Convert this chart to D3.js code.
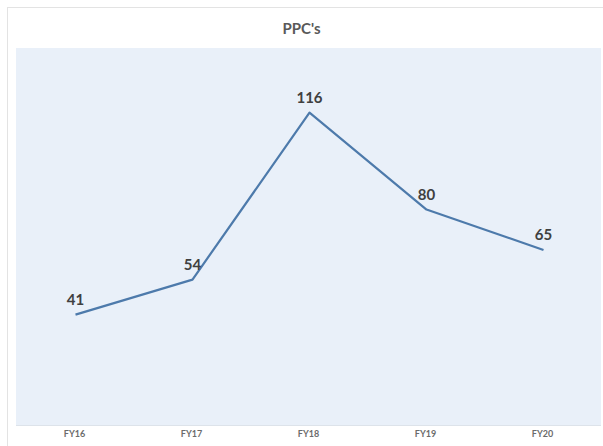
<!DOCTYPE html>
<html>
<head>
<meta charset="utf-8">
<script src="https://cdn.jsdelivr.net/npm/d3@7"></script>
<style>
  body { margin: 0; background: #fff; }
  text { font-family: Lato, "Open Sans", sans-serif; }
</style>
</head>
<body>
<div id="chart"></div>
<script>
var years = ["FY16", "FY17", "FY18", "FY19", "FY20"];
var ppcValues = [41, 54, 116, 80, 65];
var yMax = [140];

var svgWidth = 603;
var svgHeight = 446;

var margin = { top: 48, bottom: 21, left: 16, right: 2 };
var width = svgWidth - margin.left - margin.right;
var height = svgHeight - margin.top - margin.bottom;

var svg = d3.select("#chart")
    .append("svg")
    .attr("width", svgWidth)
    .attr("height", svgHeight);

// outer chart frame
svg.append("rect")
    .attr("x", 7.5)
    .attr("y", 7.5)
    .attr("width", svgWidth)
    .attr("height", svgHeight)
    .attr("fill", "#fff")
    .attr("stroke", "#e3e3e3");

svg.append("text")
    .attr("x", svgWidth / 2)
    .attr("y", 34)
    .attr("text-anchor", "middle")
    .attr("font-size", "15px")
    .attr("font-weight", "bold")
    .attr("fill", "#595959")
    .text("PPC's");

var chartGroup = svg.append("g")
    .attr("transform", `translate(${margin.left}, ${margin.top})`);

chartGroup.append("rect")
    .attr("width", width)
    .attr("height", height)
    .attr("fill", "#e9f0f9");

chartGroup.append("line")
    .attr("x1", 0).attr("x2", width)
    .attr("y1", height + 0.5).attr("y2", height + 0.5)
    .attr("stroke", "#dde3ea");

var xScale = d3.scaleBand()
    .domain(years)
    .range([0, width]);

var yScale = d3.scaleLinear()
    .domain([0, yMax[0]])
    .range([height, 0]);

var data = years.map(function (y, i) {
    return { year: y, value: ppcValues[i] };
});

var xAxis = chartGroup.append("g")
    .attr("transform", `translate(0, ${height})`)
    .call(d3.axisBottom(xScale).tickSize(0).tickPadding(6));
xAxis.select(".domain").remove();
xAxis.selectAll("text")
    .attr("font-family", "Lato, sans-serif")
    .attr("font-size", "9px")
    .attr("font-weight", "bold")
    .attr("fill", "#6b6b6b");

var line = d3.line()
    .x(d => xScale(d.year) + xScale.bandwidth() / 2 + 1)
    .y(d => yScale(d.value));

chartGroup.append("path")
    .datum(data)
    .attr("d", line)
    .attr("fill", "none")
    .attr("stroke", "#4d7aab")
    .attr("stroke-width", 2.2)
    .attr("stroke-linejoin", "round");

chartGroup.selectAll(null)
    .data(data)
    .enter()
    .append("text")
    .attr("x", d => xScale(d.year) + xScale.bandwidth() / 2 + 1)
    .attr("y", d => yScale(d.value) - 10)
    .attr("text-anchor", "middle")
    .attr("font-size", "15px")
    .attr("font-weight", "bold")
    .attr("fill", "#404040")
    .text(d => d.value);
</script>
</body>
</html>
